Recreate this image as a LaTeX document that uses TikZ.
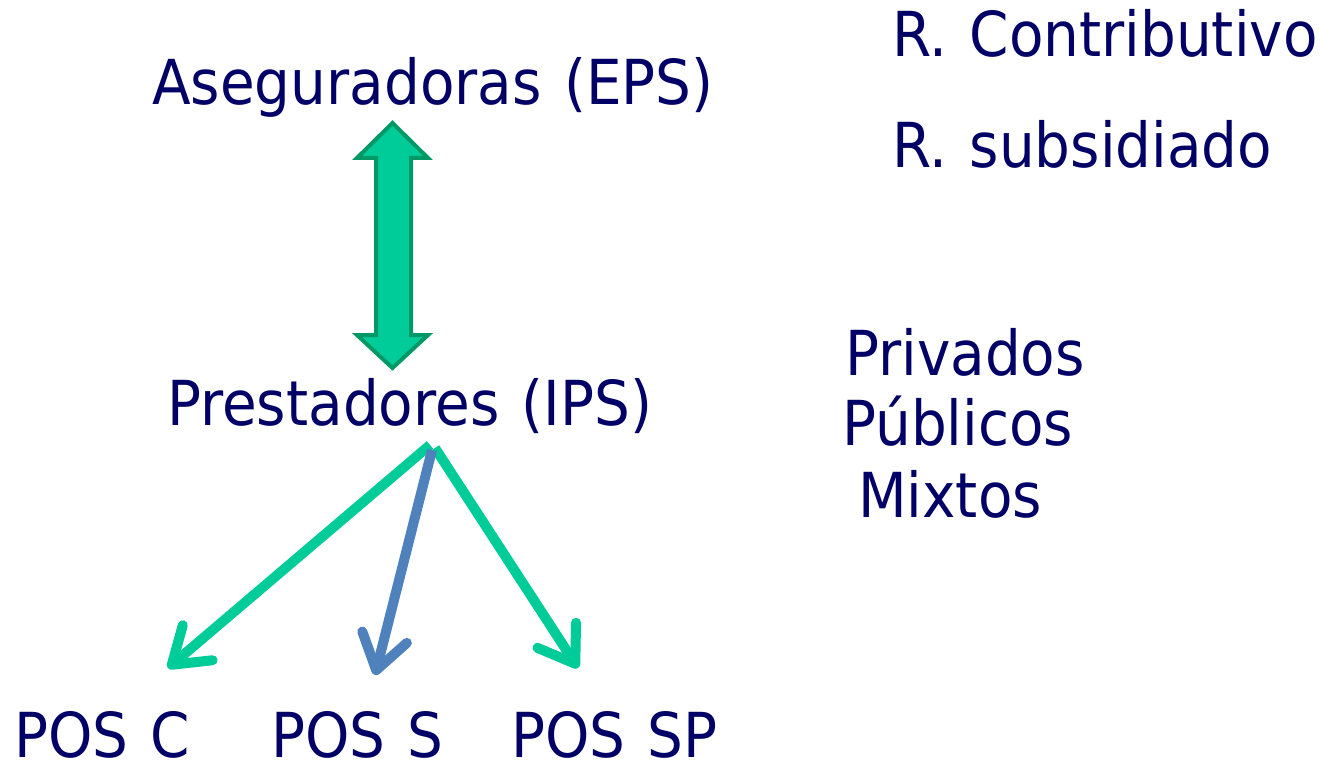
\documentclass[tikz,border=0pt]{standalone}
\usepackage{fontspec}
\setmainfont{DejaVu Sans}[FakeStretch=0.91,WordSpace=1.25]
\usetikzlibrary{arrows.meta}
\definecolor{navy}{RGB}{0,0,102}
\definecolor{mint}{RGB}{0,204,153}
\definecolor{mintdark}{RGB}{0,153,102}
\definecolor{steel}{RGB}{79,129,189}
\begin{document}
\begin{tikzpicture}[x=1pt,y=-1pt,
  lbl/.style={anchor=base west,inner sep=0pt,text=navy,font=\fontsize{62}{74}\selectfont},
  conn/.style={line width=10pt,-{Straight Barb[length=34pt,width=46pt,round]}}]
\useasboundingbox (0,0) rectangle (1320,762);
% clipped title glyph remnant
\fill[navy] (95,0) arc[start angle=180,end angle=360,x radius=15,y radius=5] -- cycle;
% labels
\node[lbl] (eps) at (152,105) {Aseguradoras (EPS)};
\node[lbl] (ips) at (167,425) {Prestadores (IPS)};
\node[lbl] (rc) at (892,57) {R. Contributivo};
\node[lbl] (rs) at (892,168) {R. subsidiado};
\node[lbl] (priv) at (845,375) {Privados};
\node[lbl] (pub) at (842,445) {Públicos};
\node[lbl] (mix) at (858,517) {Mixtos};
\node[lbl] (posc) at (14,757) {POS C};
\node[lbl] (poss) at (271,757) {POS S};
\node[lbl] (possp) at (511,757) {POS SP};
% double arrow
\filldraw[fill=mint,draw=mintdark,line width=4pt,line join=miter]
  (392.5,123) -- (428,158) -- (411,158) -- (411,335) -- (428,335) -- (392.5,368)
  -- (357,335) -- (376,335) -- (376,158) -- (357,158) -- cycle;
% connectors
\coordinate (s1) at (430,445);
\coordinate (s2) at (432,450);
\coordinate (s3) at (435,448);
\coordinate (t1) at (168,668);
\coordinate (t2) at (375,675);
\coordinate (t3) at (578,668);
\draw[conn,draw=mint] (s1) -- (t1);
\draw[conn,draw=mint] (s3) -- (t3);
\draw[conn,draw=steel] (s2) -- (t2);
\end{tikzpicture}
\end{document}
